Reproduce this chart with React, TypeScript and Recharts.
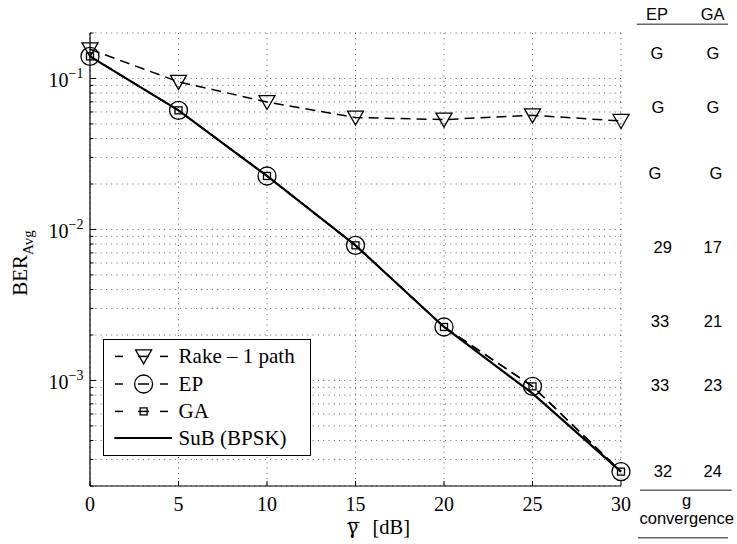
import React from 'react';
import { LineChart, Line, XAxis, YAxis, CartesianGrid, Legend } from 'recharts';

// average SNR [dB]
const snrDb = [0, 5, 10, 15, 20, 25, 30];
// BER
const rakeBer = [0.156, 0.095, 0.0698, 0.0551, 0.0534, 0.057, 0.0523];
const epBer = [0.14, 0.0615, 0.0226, 0.00785, 0.00226, 0.000914, 0.000249];
const gaBer = [0.14, 0.0615, 0.0226, 0.00785, 0.00226, 0.000914, 0.000249];
const subBer = [0.14, 0.0615, 0.0226, 0.00785, 0.00226, 0.00082, 0.000249];

const xTicks = [0, 5, 10, 15, 20, 25, 30];
const yDomain = [2e-4, 0.2];
const decades = [1e-4, 1e-3, 1e-2, 1e-1];
const mantissas = [1, 2, 3, 4, 5, 6, 7, 8, 9];

// convergence table on the right
const tableHeader = ['EP', 'GA'];
const epIters = ['G', 'G', 'G', '29', '33', '33', '32'];
const gaIters = ['G', 'G', 'G', '17', '21', '23', '24'];

const legendNames = ['Rake \u2013 1 path', 'EP', 'GA', 'SuB (BPSK)'];

const rows = snrDb.map((s, i) => ({
  snr: s,
  rake: rakeBer[i],
  ep: epBer[i],
  ga: gaBer[i],
  sub: subBer[i],
}));

const yTicks: number[] = [];
decades.forEach((d) =>
  mantissas.forEach((m) => {
    const v = m * d;
    if (v >= yDomain[0] * 0.999 && v <= yDomain[1] * 1.001) yTicks.push(v);
  })
);

const serif = '"Liberation Serif", "Times New Roman", serif';
const sans = '"Liberation Sans", Arial, sans-serif';
const serifStyle = { fontFamily: serif };

const isDecade = (v: number) => Math.abs(Math.log10(v) - Math.round(Math.log10(v))) < 1e-6;

const LeftTick = (props: any) => {
  const { x, y, payload } = props;
  const major = isDecade(payload.value);
  const exp = Math.round(Math.log10(payload.value));
  return (
    <g>
      <line x1={x} y1={y} x2={x + (major ? 6 : 3.5)} y2={y} stroke="#000" strokeWidth={1} />
      {major && (
        <text x={x - 6.5} y={y + 8.5} textAnchor="end" style={serifStyle} fontSize={20} fill="#000">
          10
          <tspan dy={-8.5} fontSize={14}>{'\u2212' + Math.abs(exp)}</tspan>
        </text>
      )}
    </g>
  );
};

const RightTick = (props: any) => {
  const { x, y, payload } = props;
  const major = isDecade(payload.value);
  return <line x1={x} y1={y} x2={x - (major ? 6 : 3.5)} y2={y} stroke="#000" strokeWidth={1} />;
};

const BottomTick = (props: any) => {
  const { x, y, payload } = props;
  return (
    <g>
      <line x1={x} y1={y} x2={x} y2={y - 5} stroke="#000" strokeWidth={1} />
      <text x={x} y={y + 24.5} textAnchor="middle" style={serifStyle} fontSize={20} fill="#000">
        {payload.value}
      </text>
    </g>
  );
};

const TopTick = (props: any) => {
  const { x, y } = props;
  return <line x1={x} y1={y} x2={x} y2={y + 5} stroke="#000" strokeWidth={1} />;
};

const TriMarker = ({ cx, cy }: { cx: number; cy: number }) => (
  <polygon
    points={`${cx - 8},${cy - 6.5} ${cx + 8},${cy - 6.5} ${cx},${cy + 7.5}`}
    fill="none"
    stroke="#000"
    strokeWidth={1.3}
  />
);
const CircleMarker = ({ cx, cy }: { cx: number; cy: number }) => (
  <circle cx={cx} cy={cy} r={9} fill="none" stroke="#000" strokeWidth={1.3} />
);
const SquareMarker = ({ cx, cy }: { cx: number; cy: number }) => (
  <rect x={cx - 3.5} y={cy - 3.5} width={7} height={7} fill="none" stroke="#000" strokeWidth={1.3} />
);

const renderLegend = () => {
  const ys = [17.4, 45, 72.4, 99];
  const markers = [TriMarker, CircleMarker, SquareMarker];
  return (
    <svg width={208} height={117} style={{ display: 'block' }}>
      <rect x={0.5} y={0.5} width={207} height={116} fill="#fff" stroke="#000" strokeWidth={1} />
      {legendNames.map((name, i) => {
        const y = ys[i];
        const M = markers[i];
        return (
          <g key={name}>
            {M ? (
              <>
                <line x1={12} y1={y} x2={20} y2={y} stroke="#000" strokeWidth={1.5} />
                <line x1={35} y1={y} x2={46} y2={y} stroke="#000" strokeWidth={1.5} />
                <line x1={57} y1={y} x2={65} y2={y} stroke="#000" strokeWidth={1.5} />
                <M cx={40.6} cy={y} />
              </>
            ) : (
              <line x1={11.3} y1={y} x2={69} y2={y} stroke="#000" strokeWidth={2.2} />
            )}
            <text x={75.6} y={y + 7} style={serifStyle} fontSize={21} fill="#000">
              {name}
            </text>
          </g>
        );
      })}
    </svg>
  );
};

const tableRowY = [53, 107, 173, 247, 321, 385, 471];
const epColX = [657, 658, 655, 662.7, 660, 660, 663];
const gaColX = [713, 713, 716, 712.7, 713, 713, 712.7];

export default function App() {
  return (
    <div style={{ position: 'absolute', left: 0, top: 0, width: 737, height: 544, background: '#fff' }}>
      <LineChart
        width={737}
        height={544}
        data={rows}
        margin={{ top: 33, right: 116, bottom: 0, left: 0 }}
      >
        <CartesianGrid
          stroke="#333"
          strokeWidth={0.8}
          strokeDasharray="1 4.3"
          horizontalValues={yTicks}
          verticalValues={xTicks}
        />
        <XAxis
          dataKey="snr"
          type="number"
          domain={[0, 30]}
          ticks={xTicks}
          height={58}
          tickLine={false}
          tickSize={0}
          tickMargin={0}
          axisLine={{ stroke: '#000', strokeWidth: 1.2 }}
          tick={<BottomTick />}
          interval={0}
        />
        <XAxis
          xAxisId="top"
          orientation="top"
          dataKey="snr"
          type="number"
          domain={[0, 30]}
          ticks={xTicks}
          height={0}
          tickLine={false}
          tickSize={0}
          tickMargin={0}
          axisLine={{ stroke: '#000', strokeWidth: 1.2 }}
          tick={<TopTick />}
          interval={0}
        />
        <YAxis
          type="number"
          scale="log"
          domain={yDomain}
          ticks={yTicks}
          width={90}
          tickLine={false}
          tickSize={0}
          tickMargin={0}
          axisLine={{ stroke: '#000', strokeWidth: 1.2 }}
          tick={<LeftTick />}
          interval={0}
        />
        <YAxis
          yAxisId="right"
          orientation="right"
          type="number"
          scale="log"
          domain={yDomain}
          ticks={yTicks}
          width={0}
          tickLine={false}
          tickSize={0}
          tickMargin={0}
          axisLine={{ stroke: '#000', strokeWidth: 1.2 }}
          tick={<RightTick />}
          interval={0}
        />
        <Line
          dataKey="rake"
          stroke="#000"
          strokeWidth={1.5}
          strokeDasharray="10 6"
          dot={(p: any) => <TriMarker key={`r${p.index}`} cx={p.cx} cy={p.cy} />}
          isAnimationActive={false}
        />
        <Line
          dataKey="ep"
          stroke="#000"
          strokeWidth={1.5}
          strokeDasharray="10 6"
          dot={(p: any) => <CircleMarker key={`e${p.index}`} cx={p.cx} cy={p.cy} />}
          isAnimationActive={false}
        />
        <Line
          dataKey="ga"
          stroke="#000"
          strokeWidth={1.5}
          strokeDasharray="10 6"
          dot={(p: any) => <SquareMarker key={`g${p.index}`} cx={p.cx} cy={p.cy} />}
          isAnimationActive={false}
        />
        <Line dataKey="sub" stroke="#000" strokeWidth={2.2} dot={false} isAnimationActive={false} />
        <Legend
          content={renderLegend}
          layout="horizontal"
          verticalAlign="middle"
          align="center"
          wrapperStyle={{ position: 'absolute', left: 102.7, top: 339.3, width: 208, height: 117 }}
        />
      </LineChart>
      <svg
        width={737}
        height={544}
        style={{ position: 'absolute', left: 0, top: 0, pointerEvents: 'none' }}
      >
        {/* y label */}
        <text transform="translate(26.5,263) rotate(-90)" textAnchor="middle" style={serifStyle} fontSize={21} fill="#000">
          BER
          <tspan dy={6} fontSize={15}>Avg</tspan>
        </text>
        {/* x label */}
        <line x1={348.5} y1={522.5} x2={359.5} y2={522.5} stroke="#000" strokeWidth={1.2} />
        <text x={346.5} y={533.5} style={{ fontFamily: '"DejaVu Serif", serif' }} fontSize={20} fill="#000">
          {'\u03b3'}
        </text>
        <text x={372.5} y={533.5} style={serifStyle} fontSize={20.5} fill="#000">
          [dB]
        </text>
        {/* convergence table */}
        <text x={657} y={20} textAnchor="middle" fontFamily={sans} fontSize={16.5} fill="#000">
          {tableHeader[0]}
        </text>
        <text x={712.7} y={20} textAnchor="middle" fontFamily={sans} fontSize={16.5} fill="#000">
          {tableHeader[1]}
        </text>
        <line x1={636.7} y1={24.3} x2={728} y2={24.3} stroke="#666" strokeWidth={1.5} />
        {epIters.map((v, i) => (
          <g key={i}>
            <text x={epColX[i]} y={tableRowY[i] + 6} textAnchor="middle" fontFamily={sans} fontSize={16.5} fill="#000">
              {v}
            </text>
            <text x={gaColX[i]} y={tableRowY[i] + 6} textAnchor="middle" fontFamily={sans} fontSize={16.5} fill="#000">
              {gaIters[i]}
            </text>
          </g>
        ))}
        <line x1={640} y1={490.3} x2={731.7} y2={490.3} stroke="#666" strokeWidth={1.5} />
        <text x={686.7} y={506} textAnchor="middle" fontFamily={sans} fontSize={16.5} fill="#000">
          g
        </text>
        <text x={686.7} y={524} textAnchor="middle" fontFamily={sans} fontSize={16.5} fill="#000">
          convergence
        </text>
        <line x1={638} y1={537.7} x2={728} y2={537.7} stroke="#666" strokeWidth={1.5} />
      </svg>
    </div>
  );
}
